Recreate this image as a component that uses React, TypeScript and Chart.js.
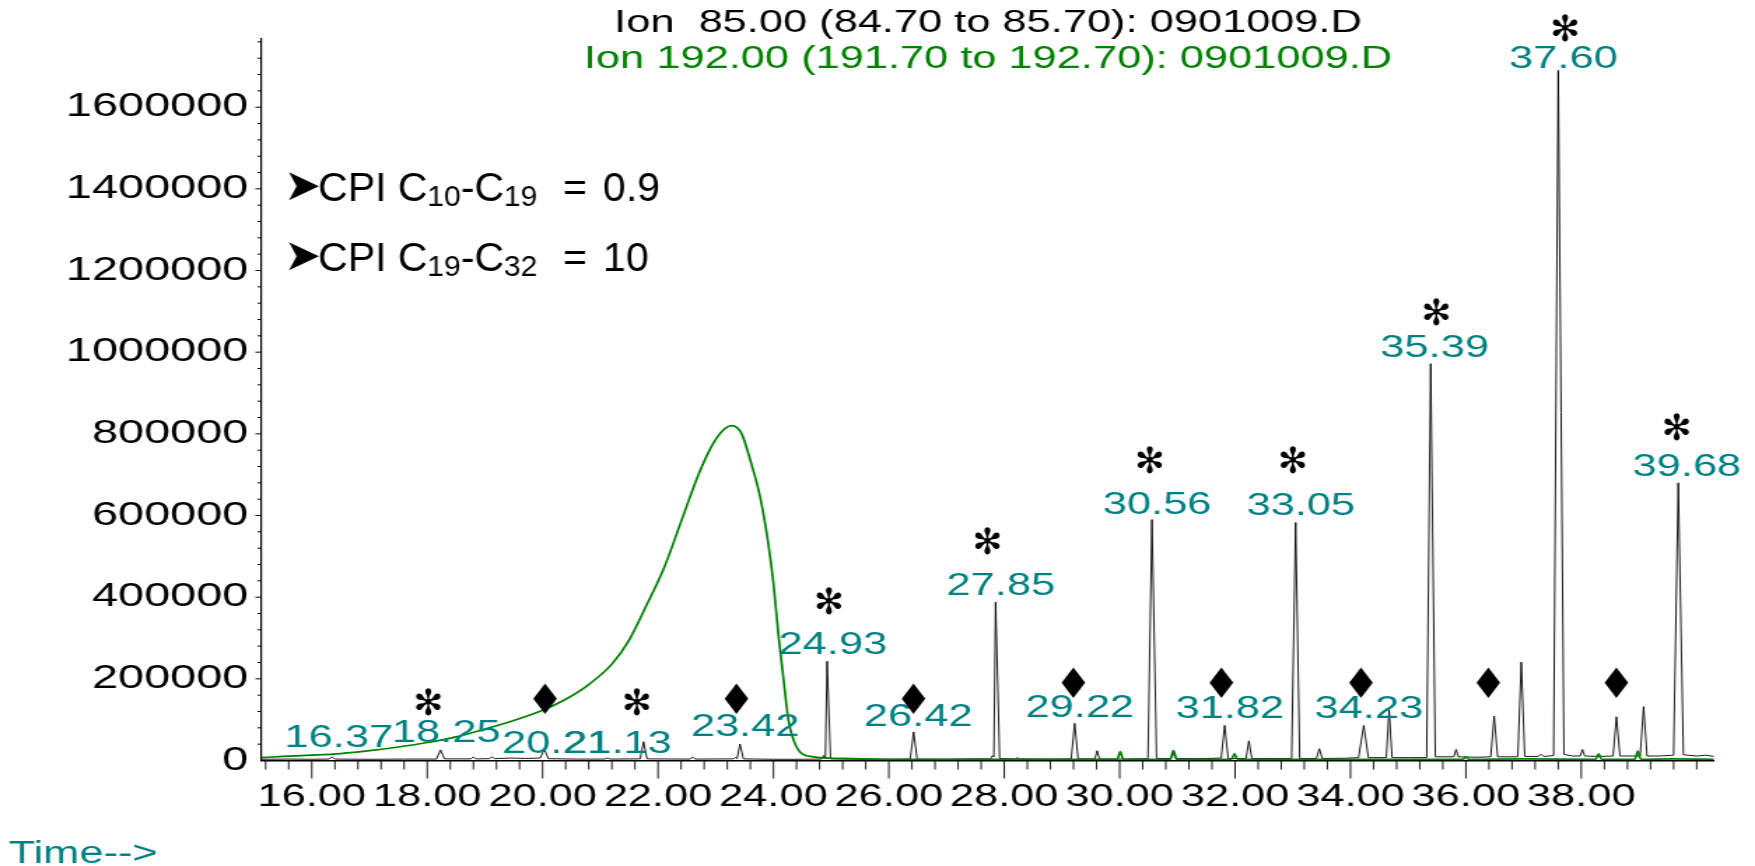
import React, { useEffect, useRef } from 'react';
import { Chart, registerables } from 'chart.js';

Chart.register(...registerables);

// ---------- data ----------
const titleBlack = 'Ion  85.00 (84.70 to 85.70): 0901009.D';
const titleGreen = 'Ion 192.00 (191.70 to 192.70): 0901009.D';
const timeLabel = 'Time-->';

const xTickValues = [16, 18, 20, 22, 24, 26, 28, 30, 32, 34, 36, 38];
const yTickValues = [0, 200000, 400000, 600000, 800000, 1000000, 1200000, 1400000, 1600000];

// Ion 85 trace (black): retention time (min) and abundance
const ion85Time = [
  15.12, 15.6, 16.0, 16.3, 16.35, 16.4, 17.0, 17.6, 18.16, 18.23,
  18.3, 18.75, 18.8, 18.85, 19.08, 19.12, 19.17, 19.45, 19.7, 19.96,
  20.03, 20.1, 20.6, 21.07, 21.12, 21.17, 21.69, 21.75, 21.81, 22.55,
  22.6, 22.65, 23.3, 23.34, 23.37, 23.42, 23.48, 24.0, 24.5, 24.83,
  24.87, 24.9, 24.93, 24.99, 25.5, 26.0, 26.37, 26.43, 26.49, 27.0,
  27.4, 27.76, 27.8, 27.82, 27.85, 27.92, 28.19, 28.23, 28.27, 28.8,
  29.16, 29.22, 29.28, 29.57, 29.61, 29.65, 30.0, 30.49, 30.56, 30.64,
  30.89, 30.93, 30.97, 31.4, 31.76, 31.82, 31.88, 32.19, 32.24, 32.29,
  32.6, 32.98, 33.05, 33.12, 33.41, 33.46, 33.51, 33.9, 34.14, 34.23,
  34.31, 34.62, 34.67, 34.72, 35.0, 35.32, 35.39, 35.47, 35.79, 35.83,
  35.87, 36.2, 36.43, 36.49, 36.55, 36.9, 36.96, 37.02, 37.25, 37.3,
  37.35, 37.52, 37.6, 37.7, 37.85, 37.98, 38.02, 38.06, 38.3, 38.55,
  38.61, 38.67, 39.02, 39.08, 39.14, 39.35, 39.6, 39.68, 39.77, 40.0,
  40.15, 40.3,
];
const ion85Value = [
  3000, 3500, 3000, 3500, 9000, 3500, 3000, 3500, 3500, 26000,
  4000, 4000, 8000, 4000, 4500, 9000, 4500, 6000, 5000, 6000,
  28000, 4500, 3500, 3500, 6000, 3500, 4000, 46000, 4000, 3500,
  8000, 3500, 4000, 7000, 4500, 40000, 4000, 3000, 3000, 3500,
  12000, 5000, 243000, 4000, 3000, 3000, 3500, 70000, 3500, 3000,
  4000, 4000, 12000, 9000, 388000, 5000, 4000, 7000, 4000, 3500,
  4000, 91000, 4000, 4000, 24000, 4000, 3500, 4500, 590000, 5000,
  5000, 18000, 5000, 4500, 6000, 86000, 5000, 5000, 48000, 5000,
  5000, 5000, 583000, 5000, 5000, 29000, 5000, 5500, 7000, 86000,
  7000, 7000, 124000, 7000, 7000, 7000, 972000, 9000, 9000, 27000,
  9000, 8000, 9000, 109000, 9000, 9000, 241000, 10000, 10000, 15000,
  10000, 12000, 1690000, 15000, 11000, 11000, 27000, 11000, 10000, 11000,
  107000, 11000, 11000, 132000, 11000, 11000, 13000, 680000, 14000, 11000,
  13000, 10000,
];

// Ion 192 trace (green)
const ion192Time = [
  15.12, 15.5, 16.0, 16.5, 17.0, 17.5, 18.0, 18.5, 19.0, 19.5,
  20.0, 20.4, 20.8, 21.2, 21.5, 21.8, 22.1, 22.4, 22.7, 22.95,
  23.15, 23.28, 23.45, 23.6, 23.77, 23.91, 24.0, 24.09, 24.17, 24.26,
  24.35, 24.46, 24.69, 25.16, 26.0, 27.0, 28.0, 29.0, 29.96, 30.01,
  30.06, 30.88, 30.93, 30.99, 31.94, 31.99, 32.04, 33.0, 34.0, 35.0,
  35.95, 36.0, 36.05, 37.0, 38.25, 38.3, 38.35, 38.93, 38.98, 39.03,
  39.6, 40.3,
];
const ion192Value = [
  7000, 10000, 13000, 17000, 24000, 33000, 44000, 58000, 77000, 98000,
  123000, 150000, 186000, 236000, 295000, 380000, 470000, 585000, 700000, 775000,
  812000, 820000, 800000, 735000, 645000, 532000, 434000, 303000, 205000, 99000,
  50000, 21000, 9000, 5000, 3000, 3000, 3000, 3000, 3000, 22000,
  3000, 3000, 24000, 3000, 3000, 17000, 3000, 3000, 3000, 3000,
  3000, 9000, 3000, 4000, 3000, 16000, 3000, 3000, 23000, 3000,
  4000, 3000,
];

// peak retention-time labels (text, centre time, centre level)
const peakLabelText = ['16.37', '18.25', '20.21', '21.13', '23.42', '24.93', '26.42', '27.85', '29.22', '30.56', '31.82', '33.05', '34.23', '35.39', '37.60', '39.68'];
const peakLabelTime = [16.47, 18.33, 20.24, 21.3, 23.51, 25.03, 26.51, 27.94, 29.31, 30.65, 31.91, 33.14, 34.32, 35.46, 37.69, 39.83];
const peakLabelLevel = [60000, 72000, 44600, 44600, 87000, 287000, 111500, 431600, 133500, 631500, 131800, 628300, 131800, 1015600, 1722000, 723800];

// marker symbols
const asteriskTime = [18.02, 21.63, 24.96, 27.71, 30.52, 33.0, 35.49, 37.72, 39.65];
const asteriskLevel = [134000, 134000, 381000, 529500, 728000, 728000, 1089000, 1785000, 808000];
const diamondTime = [20.04, 23.36, 26.43, 29.2, 31.76, 34.18, 36.39, 38.61];
const diamondLevel = [140900, 140100, 140100, 180000, 180000, 180000, 180000, 180000];

// CPI annotations
const cpiRanges = [['10', '19'], ['19', '32']];
const cpiValues = ['0.9', '10'];

const X_MIN = 15.12;
const X_MAX = 40.3;
const Y_MAX = 1767000;

// ---------- layout ----------
const FULL_W = 1755;
const H = 866;
const CW = 1254; // internal canvas width; canvas is stretched horizontally like the reference
const S = FULL_W / CW;
const FONT = "'Liberation Sans', Arial, Helvetica, sans-serif";
const SYM_FONT = "'DejaVu Sans', sans-serif";
const TEAL = '#008080';
const GREEN = '#008000';

const PLOT_LEFT = 261 / S;
const PLOT_RIGHT = 1714 / S;
const PLOT_TOP = 39;
const PLOT_BOTTOM = 760.5;

function drawUnstretched(ctx: CanvasRenderingContext2D, text: string, fullX: number, y: number) {
  ctx.save();
  ctx.translate(fullX / S, y);
  ctx.scale(1 / S, 1);
  ctx.fillText(text, 0, 0);
  ctx.restore();
}

const overlayPlugin = {
  id: 'overlay',
  afterDatasetsDraw(chart: any) {
    const ctx: CanvasRenderingContext2D = chart.ctx;
    const xs = chart.scales.x;
    const ys = chart.scales.y;
    const y0 = ys.getPixelForValue(0);
    ctx.save();

    // x tick marks (minor every 0.4 min, long at labelled values)
    ctx.strokeStyle = '#000';
    ctx.lineWidth = 0.9;
    ctx.beginPath();
    for (let i = 38; i * 0.4 <= X_MAX + 1e-9; i++) {
      const v = Math.round(i * 4) / 10;
      if (v < X_MIN) continue;
      const px = xs.getPixelForValue(v);
      const major = xTickValues.some((t) => Math.abs(t - v) < 1e-6);
      ctx.moveTo(px, y0);
      ctx.lineTo(px, y0 + (major ? 18 : 9));
    }
    ctx.stroke();

    // y tick marks (minor every 40000)
    ctx.lineWidth = 1;
    ctx.beginPath();
    for (let i = 1; i * 40000 <= Y_MAX; i++) {
      const v = i * 40000;
      const py = ys.getPixelForValue(v);
      const major = yTickValues.includes(v);
      ctx.moveTo(xs.left, py);
      ctx.lineTo(xs.left - (major ? 4 : 2.5), py);
    }
    ctx.stroke();

    // peak labels
    ctx.fillStyle = TEAL;
    ctx.font = `31px ${FONT}`;
    ctx.textAlign = 'center';
    ctx.textBaseline = 'alphabetic';
    peakLabelText.forEach((t, i) => {
      ctx.fillText(t, xs.getPixelForValue(peakLabelTime[i]), ys.getPixelForValue(peakLabelLevel[i]) + 11);
    });

    // markers
    ctx.fillStyle = '#000';
    ctx.textAlign = 'center';
    ctx.textBaseline = 'middle';
    ctx.font = `36px ${SYM_FONT}`;
    asteriskTime.forEach((t, i) => {
      drawUnstretched(ctx, '\u273B', xs.getPixelForValue(t) * S, ys.getPixelForValue(asteriskLevel[i]));
    });
    ctx.font = `42px ${SYM_FONT}`;
    diamondTime.forEach((t, i) => {
      drawUnstretched(ctx, '\u2666', xs.getPixelForValue(t) * S, ys.getPixelForValue(diamondLevel[i]));
    });

    // titles
    ctx.textBaseline = 'alphabetic';
    ctx.textAlign = 'center';
    ctx.font = `31px ${FONT}`;
    ctx.fillStyle = '#000';
    ctx.fillText(titleBlack, 988 / S, 31.7);
    ctx.fillStyle = GREEN;
    ctx.fillText(titleGreen, 988 / S, 68.3);

    // time label
    ctx.textAlign = 'left';
    ctx.fillStyle = TEAL;
    ctx.fillText(timeLabel, 8.6 / S, 863);

    // CPI annotations (not stretched)
    ctx.fillStyle = '#000';
    const baselines = [200.7, 270.5];
    cpiRanges.forEach((r, i) => {
      const by = baselines[i];
      ctx.save();
      ctx.translate(287 / S, by);
      ctx.scale(1 / S, 1);
      ctx.textAlign = 'left';
      ctx.textBaseline = 'alphabetic';
      ctx.font = `44px ${SYM_FONT}`;
      ctx.fillText('\u27A4', -3, -1);
      let cx = 31;
      const main = `41px ${FONT}`;
      const sub = `30px ${FONT}`;
      const parts: [string, string, number][] = [
        ['CPI C', main, 0],
        [r[0], sub, 5],
        ['-C', main, 0],
        [r[1], sub, 5],
      ];
      parts.forEach(([txt, f, dy]) => {
        ctx.font = f;
        ctx.fillText(txt, cx, dy);
        cx += ctx.measureText(txt).width;
      });
      ctx.font = main;
      ctx.fillText('=', 276, 0);
      ctx.fillText(cpiValues[i], 316, 0);
      ctx.restore();
    });

    ctx.restore();
  },
};

export default function App() {
  const ref = useRef<HTMLCanvasElement | null>(null);
  useEffect(() => {
    if (!ref.current) return;
    const chart = new Chart(ref.current, {
      type: 'line',
      data: {
        datasets: [
          {
            label: 'Ion 192.00',
            data: ion192Time.map((t, i) => ({ x: t, y: ion192Value[i] })),
            borderColor: GREEN,
            borderWidth: 1.7,
            pointRadius: 0,
            cubicInterpolationMode: 'monotone',
            fill: false,
          },
          {
            label: 'Ion 85.00',
            data: ion85Time.map((t, i) => ({ x: t, y: ion85Value[i] })),
            borderColor: '#000',
            borderWidth: 0.9,
            pointRadius: 0,
            tension: 0,
            fill: false,
          },
        ],
      },
      options: {
        responsive: false,
        maintainAspectRatio: false,
        animation: false,
        devicePixelRatio: 1,
        layout: { padding: { top: PLOT_TOP, right: CW - PLOT_RIGHT, left: 0, bottom: 0 } },
        plugins: { legend: { display: false }, tooltip: { enabled: false }, title: { display: false } },
        scales: {
          x: {
            type: 'linear',
            min: X_MIN,
            max: X_MAX,
            afterBuildTicks: (axis: any) => {
              axis.ticks = xTickValues.map((v) => ({ value: v }));
            },
            afterFit: (axis: any) => {
              axis.height = H - PLOT_BOTTOM;
            },
            grid: { display: false, drawTicks: false },
            border: { display: true, color: '#000', width: 1.5 },
            ticks: {
              autoSkip: false,
              maxRotation: 0,
              minRotation: 0,
              padding: 18,
              color: '#000',
              font: { family: FONT, size: 31 },
              callback: (v: any) => Number(v).toFixed(2),
            },
          },
          y: {
            type: 'linear',
            min: 0,
            max: Y_MAX,
            afterBuildTicks: (axis: any) => {
              axis.ticks = yTickValues.map((v) => ({ value: v }));
            },
            afterFit: (axis: any) => {
              axis.width = PLOT_LEFT;
            },
            grid: { display: false, drawTicks: false },
            border: { display: true, color: '#000', width: 1.2 },
            ticks: {
              padding: 9,
              color: '#000',
              font: { family: FONT, size: 33.5 },
              callback: (v: any) => String(v),
            },
          },
        },
      },
      plugins: [overlayPlugin],
    } as any);
    return () => chart.destroy();
  }, []);

  return (
    <div style={{ position: 'fixed', left: 0, top: 0, width: FULL_W, height: H, background: '#fff' }}>
      <canvas
        ref={ref}
        width={CW}
        height={H}
        style={{ display: 'block', width: `${FULL_W}px`, height: `${H}px` }}
      />
    </div>
  );
}
